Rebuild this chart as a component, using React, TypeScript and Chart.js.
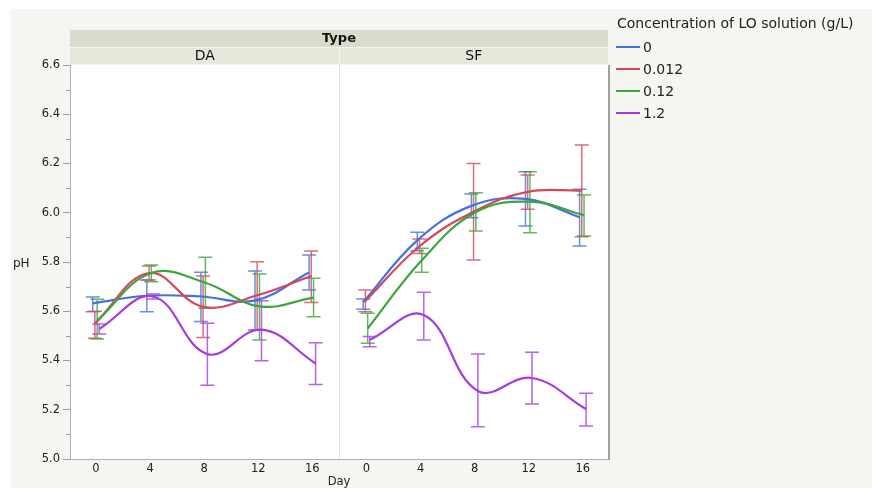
import { useEffect, useRef } from 'react';
import { Chart, registerables } from 'chart.js';

Chart.register(...registerables);

const DAYS = [0, 4, 8, 12, 16];
const PANELS = ['DA', 'SF'];
const SF_SHIFT = 20;
const PANEL_SPLIT = 18;
const CONCENTRATIONS = ['0', '0.012', '0.12', '1.2'];
const COLORS = ['#4472dc', '#d7475b', '#3ba63b', '#a53ce0'];
const JITTER = [-0.24, -0.08, 0.09, 0.24];
const X_TICKS = [0, 4, 8, 12, 16, 20, 24, 28, 32, 36];

// DA panel: means and [low, high] error bars
const DA_MEAN_0 = [5.632, 5.663, 5.66, 5.644, 5.757];
const DA_MEAN_0012 = [5.55, 5.755, 5.618, 5.665, 5.743];
const DA_MEAN_012 = [5.563, 5.755, 5.716, 5.62, 5.655];
const DA_MEAN_12 = [5.528, 5.66, 5.426, 5.525, 5.388];
const DA_BAR_0 = [[5.598, 5.658], [5.598, 5.727], [5.558, 5.758], [5.524, 5.763], [5.686, 5.828]];
const DA_BAR_0012 = [[5.49, 5.6], [5.727, 5.784], [5.493, 5.743], [5.524, 5.801], [5.636, 5.845]];
const DA_BAR_012 = [[5.487, 5.649], [5.72, 5.788], [5.612, 5.819], [5.483, 5.751], [5.578, 5.734]];
const DA_BAR_12 = [[5.508, 5.548], [5.65, 5.67], [5.3, 5.551], [5.399, 5.643], [5.303, 5.472]];

// SF panel
const SF_MEAN_0 = [5.637, 5.888, 6.028, 6.056, 5.982];
const SF_MEAN_0012 = [5.642, 5.864, 6.004, 6.085, 6.09];
const SF_MEAN_012 = [5.53, 5.807, 6.003, 6.045, 5.99];
const SF_MEAN_12 = [5.484, 5.585, 5.276, 5.329, 5.203];
const SF_BAR_0 = [[5.608, 5.65], [5.846, 5.921], [5.98, 6.076], [5.946, 6.167], [5.865, 6.095]];
const SF_BAR_0012 = [[5.598, 5.686], [5.835, 5.893], [5.808, 6.2], [6.014, 6.153], [5.903, 6.275]];
const SF_BAR_012 = [[5.47, 5.592], [5.758, 5.856], [5.926, 6.081], [5.919, 6.167], [5.906, 6.072]];
const SF_BAR_12 = [[5.456, 5.497], [5.483, 5.677], [5.131, 5.426], [5.223, 5.433], [5.134, 5.267]];

const MEANS = [
  [DA_MEAN_0, DA_MEAN_0012, DA_MEAN_012, DA_MEAN_12],
  [SF_MEAN_0, SF_MEAN_0012, SF_MEAN_012, SF_MEAN_12],
];
const BARS = [
  [DA_BAR_0, DA_BAR_0012, DA_BAR_012, DA_BAR_12],
  [SF_BAR_0, SF_BAR_0012, SF_BAR_012, SF_BAR_12],
];

const FONT = 'DejaVu Sans';

const isMajor = (v: number) => Math.round(v * 10) % 2 === 0;

const facetPlugin = {
  id: 'facet',
  beforeDraw(chart: any) {
    const { ctx, chartArea: a, scales } = chart;
    const x = scales.x;
    ctx.save();
    ctx.fillStyle = '#ffffff';
    ctx.fillRect(0, 0, chart.width, chart.height);
    ctx.fillStyle = '#f5f5f1';
    ctx.fillRect(11, 9, chart.width - 11, chart.height - 9);
    ctx.fillStyle = '#ffffff';
    ctx.fillRect(a.left, a.top, a.right - a.left, a.bottom - a.top);
    // header strips
    const w = a.right - a.left;
    ctx.fillStyle = '#dbdbcc';
    ctx.fillRect(a.left, a.top - 35, w, 17);
    ctx.fillStyle = '#e7e7dc';
    ctx.fillRect(a.left, a.top - 17, w, 16);
    const split = Math.round(x.getPixelForValue(PANEL_SPLIT)) + 0.5;
    ctx.strokeStyle = '#f6f6f0';
    ctx.lineWidth = 1;
    ctx.beginPath();
    ctx.moveTo(a.left, a.top - 17.5);
    ctx.lineTo(a.right, a.top - 17.5);
    ctx.moveTo(split, a.top - 17);
    ctx.lineTo(split, a.top - 1);
    ctx.stroke();
    ctx.fillStyle = '#111';
    ctx.textAlign = 'center';
    ctx.textBaseline = 'middle';
    ctx.font = `bold 13px "${FONT}"`;
    ctx.fillText('Type', (a.left + a.right) / 2, a.top - 26);
    ctx.font = `14px "${FONT}"`;
    ctx.fillText(PANELS[0], (a.left + split) / 2, a.top - 8.5);
    ctx.fillText(PANELS[1], (split + a.right) / 2, a.top - 8.5);
    // panel separator
    ctx.strokeStyle = '#e2e2e2';
    ctx.beginPath();
    ctx.moveTo(split, a.top);
    ctx.lineTo(split, a.bottom);
    ctx.stroke();
    // frame
    ctx.strokeStyle = '#b0b0b0';
    ctx.beginPath();
    ctx.moveTo(a.left, a.bottom + 0.5);
    ctx.lineTo(a.right, a.bottom + 0.5);
    ctx.stroke();
    ctx.strokeStyle = '#a2a2a2';
    ctx.lineWidth = 2;
    ctx.beginPath();
    ctx.moveTo(a.right + 1, a.top);
    ctx.lineTo(a.right + 1, a.bottom + 1);
    ctx.stroke();
    ctx.restore();
  },
  beforeDatasetsDraw(chart: any) {
    const { ctx, scales } = chart;
    const x = scales.x;
    const y = scales.y;
    ctx.save();
    ctx.lineWidth = 1.5;
    ctx.globalAlpha = 0.8;
    BARS.forEach((panel, p) => {
      panel.forEach((bars, s) => {
        ctx.strokeStyle = COLORS[s];
        bars.forEach((bar, i) => {
          const px = x.getPixelForValue(DAYS[i] + p * SF_SHIFT + JITTER[s]);
          const y0 = y.getPixelForValue(bar[0]);
          const y1 = y.getPixelForValue(bar[1]);
          ctx.beginPath();
          ctx.moveTo(px, y0);
          ctx.lineTo(px, y1);
          ctx.moveTo(px - 7, y0);
          ctx.lineTo(px + 7, y0);
          ctx.moveTo(px - 7, y1);
          ctx.lineTo(px + 7, y1);
          ctx.stroke();
        });
      });
    });
    ctx.restore();
  },
  afterDraw(chart: any) {
    const { ctx, chartArea: a, scales } = chart;
    const y = scales.y;
    ctx.save();
    // minor ticks
    ctx.strokeStyle = '#a0a0a0';
    ctx.lineWidth = 1;
    y.ticks.forEach((t: any) => {
      if (!isMajor(t.value)) {
        const py = Math.round(y.getPixelForValue(t.value)) + 0.5;
        ctx.beginPath();
        ctx.moveTo(a.left - 4, py);
        ctx.lineTo(a.left, py);
        ctx.stroke();
      }
    });
    // y title (horizontal)
    ctx.fillStyle = '#222';
    ctx.font = `12px "${FONT}"`;
    ctx.textAlign = 'left';
    ctx.textBaseline = 'middle';
    ctx.fillText('pH', 13, (a.top + a.bottom) / 2 + 2);
    // legend
    ctx.font = `14px "${FONT}"`;
    ctx.fillStyle = '#222';
    ctx.fillText('Concentration of LO solution (g/L)', 617, 24);
    CONCENTRATIONS.forEach((c, i) => {
      const ly = 47 + i * 22;
      ctx.strokeStyle = COLORS[i];
      ctx.lineWidth = 2;
      ctx.beginPath();
      ctx.moveTo(616, ly);
      ctx.lineTo(640, ly);
      ctx.stroke();
      ctx.fillStyle = '#222';
      ctx.fillText(c, 643, ly + 1);
    });
    ctx.restore();
  },
};

export default function App() {
  const ref = useRef<HTMLCanvasElement | null>(null);

  useEffect(() => {
    if (!ref.current) return;
    const datasets: any[] = [];
    MEANS.forEach((panel, p) => {
      panel.forEach((means, s) => {
        datasets.push({
          label: `${PANELS[p]} ${CONCENTRATIONS[s]}`,
          data: DAYS.map((d, i) => ({ x: d + p * SF_SHIFT + JITTER[s], y: means[i] })),
          borderColor: COLORS[s],
          backgroundColor: COLORS[s],
          borderWidth: 2.2,
          pointRadius: 0,
          tension: 0.4,
          fill: false,
          order: 3 - s,
        });
      });
    });

    const chart = new Chart(ref.current, {
      type: 'line',
      data: { datasets },
      plugins: [facetPlugin],
      options: {
        animation: false,
        responsive: false,
        devicePixelRatio: 1,
        layout: { padding: { left: 0, top: 65, right: 264, bottom: 0 } },
        plugins: { legend: { display: false }, tooltip: { enabled: false } },
        scales: {
          x: {
            type: 'linear',
            min: -1.92,
            max: 37.86,
            afterBuildTicks: (s: any) => {
              s.ticks = X_TICKS.map((v) => ({ value: v }));
            },
            afterFit: (s: any) => {
              s.height = 29;
            },
            ticks: {
              autoSkip: false,
              maxRotation: 0,
              padding: 3,
              color: '#222',
              font: { family: FONT, size: 11.5 },
              callback: (v: any) => String(v >= SF_SHIFT ? v - SF_SHIFT : v),
            },
            grid: { display: false, drawTicks: false },
            border: { display: false },
            title: {
              display: true,
              text: 'Day',
              color: '#222',
              padding: 0,
              font: { family: FONT, size: 11.5, lineHeight: 1 },
            },
          },
          y: {
            min: 5,
            max: 6.6,
            afterFit: (s: any) => {
              s.width = 70;
            },
            ticks: {
              stepSize: 0.1,
              autoSkip: false,
              padding: 3,
              color: '#222',
              font: { family: FONT, size: 11.5 },
              callback: (v: any) => (isMajor(Number(v)) ? Number(v).toFixed(1) : ''),
            },
            grid: {
              drawOnChartArea: false,
              drawTicks: true,
              tickLength: 7,
              tickColor: (c: any) => (c.tick && isMajor(c.tick.value) ? '#a0a0a0' : 'rgba(0,0,0,0)'),
            },
            border: { display: true, color: '#b0b0b0' },
          },
        },
      },
    });
    return () => chart.destroy();
  }, []);

  return (
    <div style={{ position: 'fixed', left: 0, top: 0, width: 872, height: 488 }}>
      <canvas ref={ref} width={872} height={488} style={{ width: 872, height: 488, display: 'block' }} />
    </div>
  );
}
